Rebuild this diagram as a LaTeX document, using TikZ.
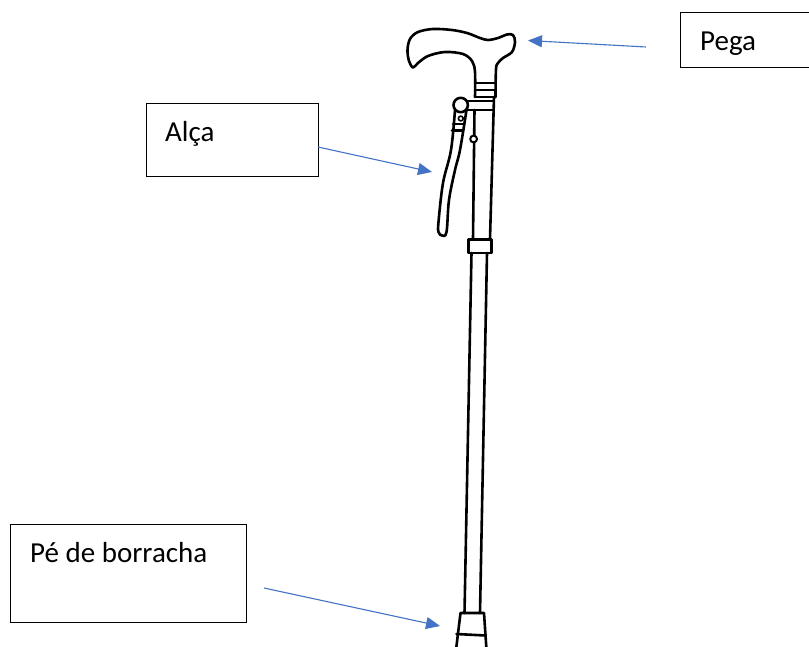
\documentclass[tikz,border=0pt]{standalone}
\usepackage{fontspec}
\setmainfont{Carlito}
\usetikzlibrary{arrows.meta}
\definecolor{pointer}{HTML}{4472C4}
\tikzset{
  label box/.style={draw=black, line width=1.1pt, rectangle, inner sep=0pt, anchor=north west},
  label text/.style={anchor=base west, inner sep=0pt, font=\fontsize{29}{35}\selectfont},
  pointer arrow/.style={draw=pointer, line width=1.1pt, -{Triangle[length=14pt,width=12pt]}},
  cane/.style={line width=2.6pt, line join=round, line cap=round},
}
\begin{document}
\begin{tikzpicture}[x=1pt,y=-1pt]
\useasboundingbox (0,0) rectangle (809,646);
\clip (0,0) rectangle (809,646);
\fill[white] (0,0) rectangle (809,646);

% label boxes and their texts
\node[label box, minimum width=172pt, minimum height=73pt] (alcaBox) at (146,103) {};
\node[label text] (alcaText) at (165,141.7) {Alça};
\node[label box, minimum width=140pt, minimum height=55pt] (pegaBox) at (680,12) {};
\node[label text] (pegaText) at (700,50) {Pega};
\node[label box, minimum width=236pt, minimum height=98pt] (peBox) at (10,524) {};
\node[label text] (peText) at (30,562.7) {Pé de borracha};

% pointers
\coordinate (pegaTail) at (646,47);
\coordinate (pegaTip) at (528,40.5);
\coordinate (alcaTail) at (318,147);
\coordinate (alcaTip) at (432,172);
\coordinate (peTail) at (264,588);
\coordinate (peTip) at (440,626);
\draw[pointer arrow] (pegaTail) -- (pegaTip);
\draw[pointer arrow] (alcaTail) -- (alcaTip);
\draw[pointer arrow] (peTail) -- (peTip);

% the walking stick
\begin{scope}[cane]
  % handle
  \draw plot[smooth, tension=0.55] coordinates {
    (475,97) (475,72) (472,61) (463,54) (445,52) (428,56) (418,63) (413,67.5)
    (409,61) (407.5,50) (410,39) (418,32) (433,29) (452,30) (467,33)
    (480,38) (488,40) (498,38) (507,34.5) (513,35) (515,42) (512,52)
    (503,58) (498,63) (496,69) (495.5,97)};
  % upper collar rings
  \draw (475,83) -- (495.5,83);
  \draw (475,90) -- (495.5,90);
  \draw (475,97) -- (495.5,97);
  % upper shaft
  \draw (494,97) -- (490,239);
  \draw (474.5,110) -- (473,239);
  % strap
  \draw plot[smooth, tension=0.6] coordinates {
    (455,110) (451,150) (443,183) (438.5,222) (438.5,232) (442,235.5)
    (446.5,232) (449,200) (455,170) (460,150) (466.5,110)};
  \draw (453,124) -- (464,124);
  \draw (452,130.5) -- (463,130.5);
  \draw[line width=1.6pt, fill=white] (460.8,118.5) circle (2.4);
  % bracket and pivot
  \draw (466,101) -- (493,101);
  \draw (466,110) -- (492.5,110);
  \draw[fill=white] (460.7,105) circle (7.2);
  % button on the shaft
  \draw[line width=2pt, fill=white] (473.6,139) circle (3.4);
  % lower collar
  \draw (468.5,239.5) rectangle (491.5,253);
  % lower shaft
  \draw (471.5,253) -- (464.5,613);
  \draw (487,253) -- (480,613);
  % rubber foot
  \draw (456,650) -- (460.5,613) -- (484,613) -- (486.5,650);
  \draw (456.5,634) -- (485.5,635.5);
\end{scope}
\end{tikzpicture}
\end{document}
